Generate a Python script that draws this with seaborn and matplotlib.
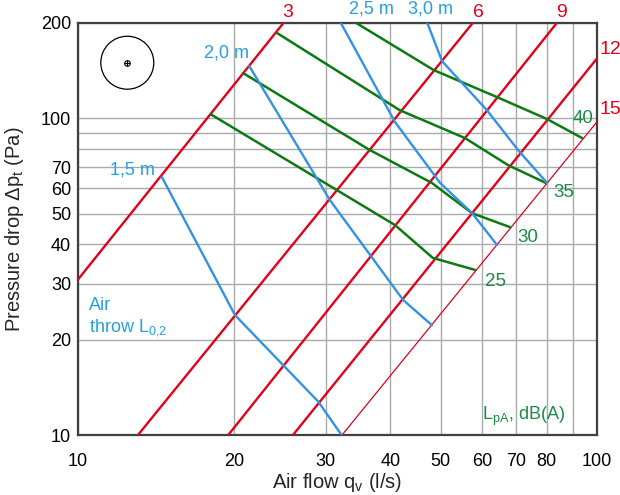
import matplotlib
matplotlib.use('Agg')
import matplotlib.pyplot as plt
from matplotlib.patches import Ellipse
from matplotlib.ticker import FixedLocator, NullFormatter
import pandas as pd
import seaborn as sns

sns.set_theme(style='white')
plt.rcParams['font.family'] = ['Liberation Sans', 'DejaVu Sans']
plt.rcParams['mathtext.default'] = 'regular'

# red lines (duct size), end points
red_labels = ['3', '6', '9', '12', '15']
red_q = [[10, 24.9], [13.04, 57.7], [19.47, 83.8], [25.95, 100], [32.27, 100]]
red_dp = [[31.0, 200], [10, 200], [10, 200], [10, 154], [10, 97.2]]

# blue lines: air throw L0,2
throw_labels = ['1,5 m', '2,0 m', '2,5 m', '3,0 m']
throw_q = [[14.49, 20.06, 29.04, 32.2],
           [21.38, 30.58, 42.3, 48.1],
           [32.08, 40.8, 49.9, 57.5, 64.2],
           [47.1, 50.3, 61.4, 70.5, 80.2]]
throw_dp = [[65.3, 23.9, 12.74, 10],
            [145.9, 55.1, 26.7, 22.2],
            [200, 97.3, 62.4, 50.1, 39.8],
            [200, 151.3, 105.9, 79.3, 62.4]]

# green lines: sound level LpA dB(A)
sound_labels = ['25', '30', '35', '40']
sound_q = [[18.0, 40.8, 48.3, 58.2],
           [20.8, 36.5, 48.1, 57.5, 68.0],
           [24.2, 41.7, 55.7, 67.4, 79.8],
           [34.3, 48.5, 64.2, 80.2, 93.7]]
sound_dp = [[102.9, 46.0, 36.2, 33.2],
            [138.7, 79.3, 62.4, 50.1, 45.3],
            [185.4, 105.9, 86.5, 71.1, 62.4],
            [200, 141.7, 116.5, 99.3, 86.5]]

x_ticks = [10, 20, 30, 40, 50, 60, 70, 80, 100]
y_ticks = [10, 20, 30, 40, 50, 60, 70, 100, 200]

RED = '#e2001a'
BLUE = '#3591e3'
BLUE_TXT = '#27a0de'
GREEN = '#0c7a12'
GREEN_TXT = '#1b8c46'

fig = plt.figure(figsize=(6.2, 4.95), dpi=100)
ax = fig.add_axes([0.1261, 0.1212, 0.8365, 0.8329])

for lab, q, dp in zip(red_labels, red_q, red_dp):
    lw = 0.9 if lab == '15' else 1.7
    sns.lineplot(x=q, y=dp, sort=False, estimator=None, color=RED, lw=lw, ax=ax, zorder=3)

for lab, q, dp in zip(sound_labels, sound_q, sound_dp):
    sns.lineplot(x=q, y=dp, sort=False, estimator=None, color=GREEN, lw=1.8, ax=ax, zorder=4)

for lab, q, dp in zip(throw_labels, throw_q, throw_dp):
    sns.lineplot(x=q, y=dp, sort=False, estimator=None, color=BLUE, lw=1.7, ax=ax, zorder=5)

ax.set_xscale('log')
ax.set_yscale('log')
ax.set_xlim(10, 100)
ax.set_ylim(10, 200)

ax.xaxis.set_major_locator(FixedLocator(x_ticks))
ax.yaxis.set_major_locator(FixedLocator(y_ticks))
ax.xaxis.set_minor_locator(FixedLocator([90]))
ax.yaxis.set_minor_locator(FixedLocator([80, 90]))
ax.set_xticklabels([str(t) for t in x_ticks])
ax.set_yticklabels([str(t) for t in y_ticks])
ax.xaxis.set_minor_formatter(NullFormatter())
ax.yaxis.set_minor_formatter(NullFormatter())
ax.tick_params(which='both', length=0, labelsize=13, colors='black')
ax.tick_params(axis='x', pad=13)
ax.tick_params(axis='y', pad=5)
ax.grid(which='both', color='#aaaaaa', lw=1.0, zorder=0)
ax.set_axisbelow(True)

for s in ax.spines.values():
    s.set_color('#404040')
    s.set_linewidth(1.6)

ax.set_xlabel('Air flow q$_{v}$ (l/s)', fontsize=14.5)
ax.set_ylabel('Pressure drop Δp$_{t}$ (Pa)', fontsize=14.5)
ax.xaxis.set_label_coords(0.499, -0.088)
ax.yaxis.set_label_coords(-0.1, 0.5)

# labels on the lines
red_pos = [(25.4, 216), (59.0, 216), (85.5, 216), (106, 164.7), (106, 106.5)]
for lab, (x, y) in zip(red_labels, red_pos):
    ax.text(x, y, lab, color=RED, fontsize=14, ha='center', va='center', clip_on=False)

throw_pos = [(12.7, 68.5), (19.3, 160), (36.7, 221), (47.7, 221)]
for lab, (x, y) in zip(throw_labels, throw_pos):
    ax.text(x, y, lab, color=BLUE_TXT, fontsize=13, ha='center', va='center', clip_on=False)

sound_pos = [(63.9, 30.4), (73.5, 42.0), (86.2, 58.1), (94.2, 99.8)]
for lab, (x, y) in zip(sound_labels, sound_pos):
    ax.text(x, y, lab, color=GREEN_TXT, fontsize=13.5, ha='center', va='center')

ax.text(0.021, 0.303, 'Air', color=BLUE_TXT, fontsize=13, transform=ax.transAxes)
ax.text(0.021, 0.252, 'throw L$_{0{,}2}$', color=BLUE_TXT, fontsize=13, transform=ax.transAxes)
ax.text(0.778, 0.036, 'L$_{pA}$, dB(A)', color=GREEN_TXT, fontsize=13, transform=ax.transAxes)

# round diffuser symbol
ax.add_patch(Ellipse((0.0947, 0.903), 0.1022, 0.1285, fill=False, ec='black', lw=0.9,
                     transform=ax.transAxes))
ax.plot(0.0947, 0.903, marker='o', ms=4, mfc='none', mec='black', mew=0.8, transform=ax.transAxes)
ax.plot(0.0947, 0.903, marker='+', ms=4, mec='black', mew=0.8, transform=ax.transAxes)

fig.savefig('out.png', dpi=100)
